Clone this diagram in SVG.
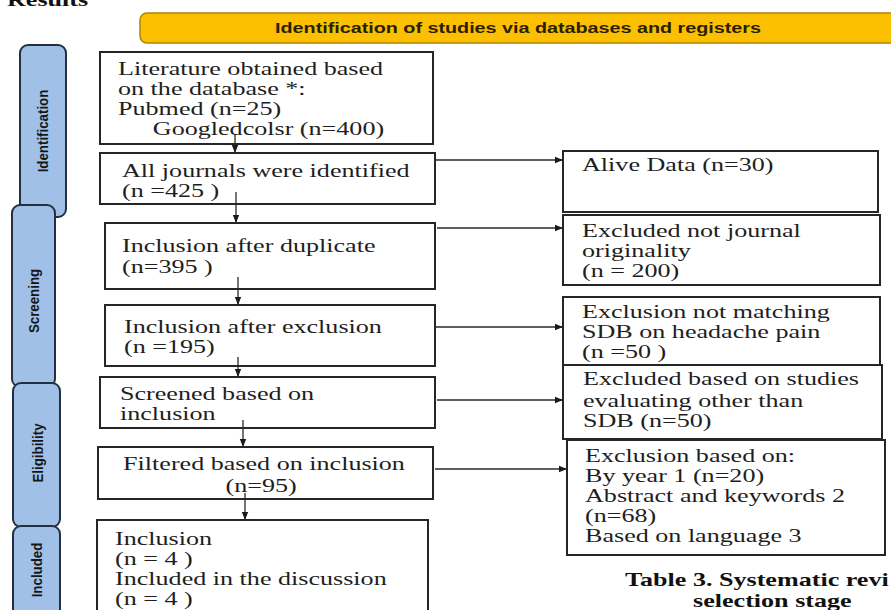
<svg xmlns="http://www.w3.org/2000/svg" width="891" height="610" viewBox="0 0 891 610">
<defs>
<style>
.box{fill:#fff;stroke:#262626;stroke-width:2}
.t{font-family:"Liberation Serif","Times New Roman",serif;font-size:18px;fill:#1e1e1e}
.tb{font-family:"Liberation Serif","Times New Roman",serif;font-size:18px;font-weight:bold;fill:#111}
.tab{fill:#a0c0e8;stroke:#24303f;stroke-width:2}
.tl{font-family:"Liberation Sans",Arial,sans-serif;font-size:14px;font-weight:bold;fill:#161616;text-anchor:middle;dominant-baseline:central}
.con{stroke:#2a2a2a;stroke-width:1.3;fill:none;marker-end:url(#ah)}
</style>
<marker id="ah" viewBox="0 0 10 10" refX="10" refY="5" markerWidth="9" markerHeight="8" orient="auto" markerUnits="userSpaceOnUse">
<path d="M0,1 L10,5 L0,9 z" fill="#1a1a1a"/>
</marker>
</defs>
<rect width="891" height="610" fill="#fff"/>

<text class="tb" transform="matrix(1.45 0 0 1 7 6)">Results</text>

<g id="header">
<rect x="140" y="13" width="760" height="30" rx="7" fill="#fcc000" stroke="#b08400" stroke-width="1.5"/>
<text transform="matrix(1.41 0 0 1 518 33)" text-anchor="middle" font-family="'Liberation Sans',Arial,sans-serif" font-size="14" font-weight="bold" fill="#2a2000">Identification of studies via databases and registers</text>
</g>

<g id="tab-identification">
<rect class="tab" x="20" y="45" width="46" height="172" rx="8"/>
<text class="tl" transform="translate(43 131) rotate(-90) scale(0.95 1)">Identification</text>
</g>
<g id="tab-screening">
<rect class="tab" x="12" y="205" width="43" height="182" rx="8"/>
<text class="tl" transform="translate(34 301) rotate(-90) scale(0.95 1)">Screening</text>
</g>
<g id="tab-eligibility">
<rect class="tab" x="13" y="383" width="47" height="144" rx="8"/>
<text class="tl" transform="translate(38 453) rotate(-90) scale(0.95 1)">Eligibility</text>
</g>
<g id="tab-included">
<rect class="tab" x="13" y="526" width="47" height="100" rx="8"/>
<text class="tl" transform="translate(37 570) rotate(-90) scale(0.95 1)">Included</text>
</g>

<g id="n1">
<rect class="box" x="100" y="52" width="333" height="92"/>
<text class="t" transform="matrix(1.45 0 0 1 118 75)"><tspan x="0" y="0">Literature obtained based</tspan><tspan x="0" y="20">on the database *:</tspan><tspan x="0" y="40">Pubmed (n=25)</tspan><tspan x="24" y="60">Googledcolsr (n=400)</tspan></text>
</g>
<g id="n2">
<rect class="box" x="100" y="153" width="335" height="51"/>
<text class="t" transform="matrix(1.45 0 0 1 122 177)"><tspan x="0" y="0">All journals were identified</tspan><tspan x="0" y="20">(n =425 )</tspan></text>
</g>
<g id="n3">
<rect class="box" x="105" y="223" width="330" height="66"/>
<text class="t" transform="matrix(1.45 0 0 1 122 252)"><tspan x="0" y="0">Inclusion after duplicate</tspan><tspan x="0" y="21">(n=395 )</tspan></text>
</g>
<g id="n4">
<rect class="box" x="105" y="305" width="330" height="61"/>
<text class="t" transform="matrix(1.45 0 0 1 124 333)"><tspan x="0" y="0">Inclusion after exclusion</tspan><tspan x="0" y="20">(n =195)</tspan></text>
</g>
<g id="n5">
<rect class="box" x="100" y="377" width="335" height="51"/>
<text class="t" transform="matrix(1.45 0 0 1 120 400)"><tspan x="0" y="0">Screened based on</tspan><tspan x="0" y="20">inclusion</tspan></text>
</g>
<g id="n6">
<rect class="box" x="98" y="447" width="335" height="52"/>
<text class="t" text-anchor="middle" transform="matrix(1.45 0 0 1 264 470)"><tspan x="0" y="0">Filtered based on inclusion</tspan><tspan x="-2" y="22">(n=95)</tspan></text>
</g>
<g id="n7">
<rect class="box" x="97" y="520" width="331" height="100"/>
<text class="t" transform="matrix(1.45 0 0 1 115 545)"><tspan x="0" y="0">Inclusion</tspan><tspan x="0" y="20">(n = 4 )</tspan><tspan x="0" y="40">Included in the discussion</tspan><tspan x="0" y="60">(n = 4 )</tspan></text>
</g>

<g id="r1">
<rect class="box" x="563" y="151" width="315" height="61"/>
<text class="t" transform="matrix(1.45 0 0 1 582 171)">Alive Data (n=30)</text>
</g>
<g id="r2">
<rect class="box" x="563" y="215" width="317" height="70"/>
<text class="t" transform="matrix(1.45 0 0 1 582 237)"><tspan x="0" y="0">Excluded not journal</tspan><tspan x="0" y="20">originality</tspan><tspan x="0" y="40">(n = 200)</tspan></text>
</g>
<g id="r3">
<rect class="box" x="563" y="297" width="317" height="68"/>
<text class="t" transform="matrix(1.45 0 0 1 582 318)"><tspan x="0" y="0">Exclusion not matching</tspan><tspan x="0" y="20">SDB on headache pain</tspan><tspan x="0" y="40">(n =50 )</tspan></text>
</g>
<g id="r4">
<rect class="box" x="563" y="365" width="319" height="74"/>
<text class="t" transform="matrix(1.45 0 0 1 583 385)"><tspan x="0" y="0">Excluded based on studies</tspan><tspan x="0" y="22">evaluating other than</tspan><tspan x="0" y="42">SDB (n=50)</tspan></text>
</g>
<g id="r5">
<rect class="box" x="567" y="440" width="318" height="115"/>
<text class="t" transform="matrix(1.45 0 0 1 585 462)"><tspan x="0" y="0">Exclusion based on:</tspan><tspan x="0" y="20">By year 1 (n=20)</tspan><tspan x="0" y="40">Abstract and keywords 2</tspan><tspan x="0" y="60">(n=68)</tspan><tspan x="0" y="80">Based on language 3</tspan></text>
</g>

<g id="connectors">
<line class="con" x1="235" y1="134" x2="235" y2="153"/>
<line class="con" x1="236" y1="192" x2="236" y2="223"/>
<line class="con" x1="238" y1="277" x2="238" y2="305"/>
<line class="con" x1="238" y1="357" x2="238" y2="377"/>
<line class="con" x1="243" y1="420" x2="243" y2="447"/>
<line class="con" x1="245" y1="493" x2="245" y2="520"/>
<line class="con" x1="435" y1="160" x2="563" y2="160"/>
<line class="con" x1="437" y1="228" x2="563" y2="228"/>
<line class="con" x1="435" y1="327" x2="563" y2="327"/>
<line class="con" x1="437" y1="400" x2="563" y2="400"/>
<line class="con" x1="435" y1="469" x2="567" y2="469"/>
</g>

<g id="caption">
<text class="tb" transform="matrix(1.45 0 0 1 625 586)">Table 3. Systematic revi</text>
<text class="tb" transform="matrix(1.45 0 0 1 693 607)">selection stage</text>
</g>
</svg>
